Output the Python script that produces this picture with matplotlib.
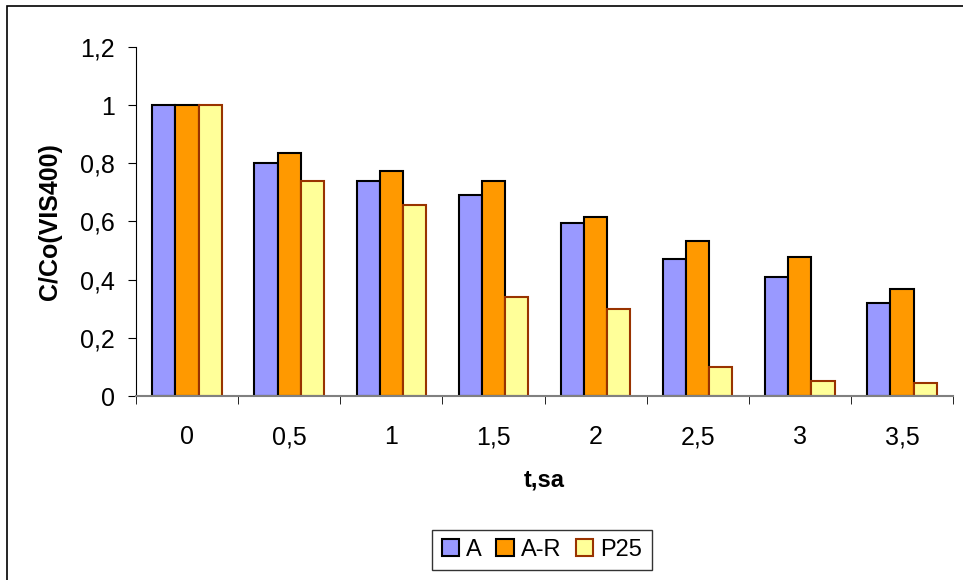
import numpy as np
import matplotlib
matplotlib.use("Agg")
import matplotlib.pyplot as plt
from matplotlib.patches import Rectangle

plt.rcParams["font.family"] = ["Liberation Sans", "DejaVu Sans"]

times = ["0", "0,5", "1", "1,5", "2", "2,5", "3", "3,5"]
a_vals = [1.0, 0.80, 0.74, 0.69, 0.595, 0.47, 0.41, 0.32]
ar_vals = [1.0, 0.835, 0.773, 0.739, 0.615, 0.533, 0.478, 0.368]
p25_vals = [1.0, 0.739, 0.656, 0.34, 0.299, 0.10, 0.052, 0.045]
y_ticks = [0, 0.2, 0.4, 0.6, 0.8, 1.0, 1.2]
y_labels = ["0", "0,2", "0,4", "0,6", "0,8", "1", "1,2"]

fig = plt.figure(figsize=(9.63, 5.8), dpi=100)
ax = fig.add_axes([136 / 963, 1 - 396 / 580, 817 / 963, (396 - 47) / 580])

# outer chart frame
fig.patches.append(Rectangle((7 / 963, -0.1), 1.2, 1 - 6 / 580 + 0.1, transform=fig.transFigure,
                             fill=False, edgecolor="black", linewidth=1.2))

x = np.arange(len(times))
w = 0.227
ax.bar(x - w, a_vals, w, color="#9999FF", edgecolor="black", linewidth=1.5, label="A")
ax.bar(x, ar_vals, w, color="#FF9900", edgecolor="black", linewidth=1.5, label="A-R")
ax.bar(x + w, p25_vals, w, color="#FFFF99", edgecolor="#993300", linewidth=1.5, label="P25")

ax.set_xlim(-0.5, len(times) - 0.5)
ax.set_ylim(0, 1.2)
ax.set_yticks(y_ticks)
ax.set_yticklabels(y_labels)
ax.set_xticks(x)
ax.set_xticklabels(times)
ax.set_xticks(np.arange(len(times) + 1) - 0.5, minor=True)
ax.tick_params(axis="x", which="major", length=0, pad=21, labelsize=18)
ax.tick_params(axis="x", which="minor", length=6, direction="out", color="black")
ax.tick_params(axis="y", length=6, direction="out", pad=9, labelsize=18)

for s in ["top", "right"]:
    ax.spines[s].set_visible(False)
ax.spines["bottom"].set_color("#808080")
ax.spines["bottom"].set_linewidth(1.5)
ax.spines["left"].set_color("black")

ax.set_xlabel("t,sa", fontsize=17, fontweight="bold", labelpad=14)
ax.set_ylabel("C/Co(VIS400)", fontsize=18, fontweight="bold", labelpad=13)

fig.legend(loc="center", bbox_to_anchor=(542 / 963, 1 - 550 / 580), ncol=3, fontsize=17,
           frameon=True, fancybox=False, edgecolor="black", handlelength=0.75, handleheight=0.75,
           handletextpad=0.3, columnspacing=0.6, borderpad=0.4)

fig.savefig("out.png", dpi=100)
